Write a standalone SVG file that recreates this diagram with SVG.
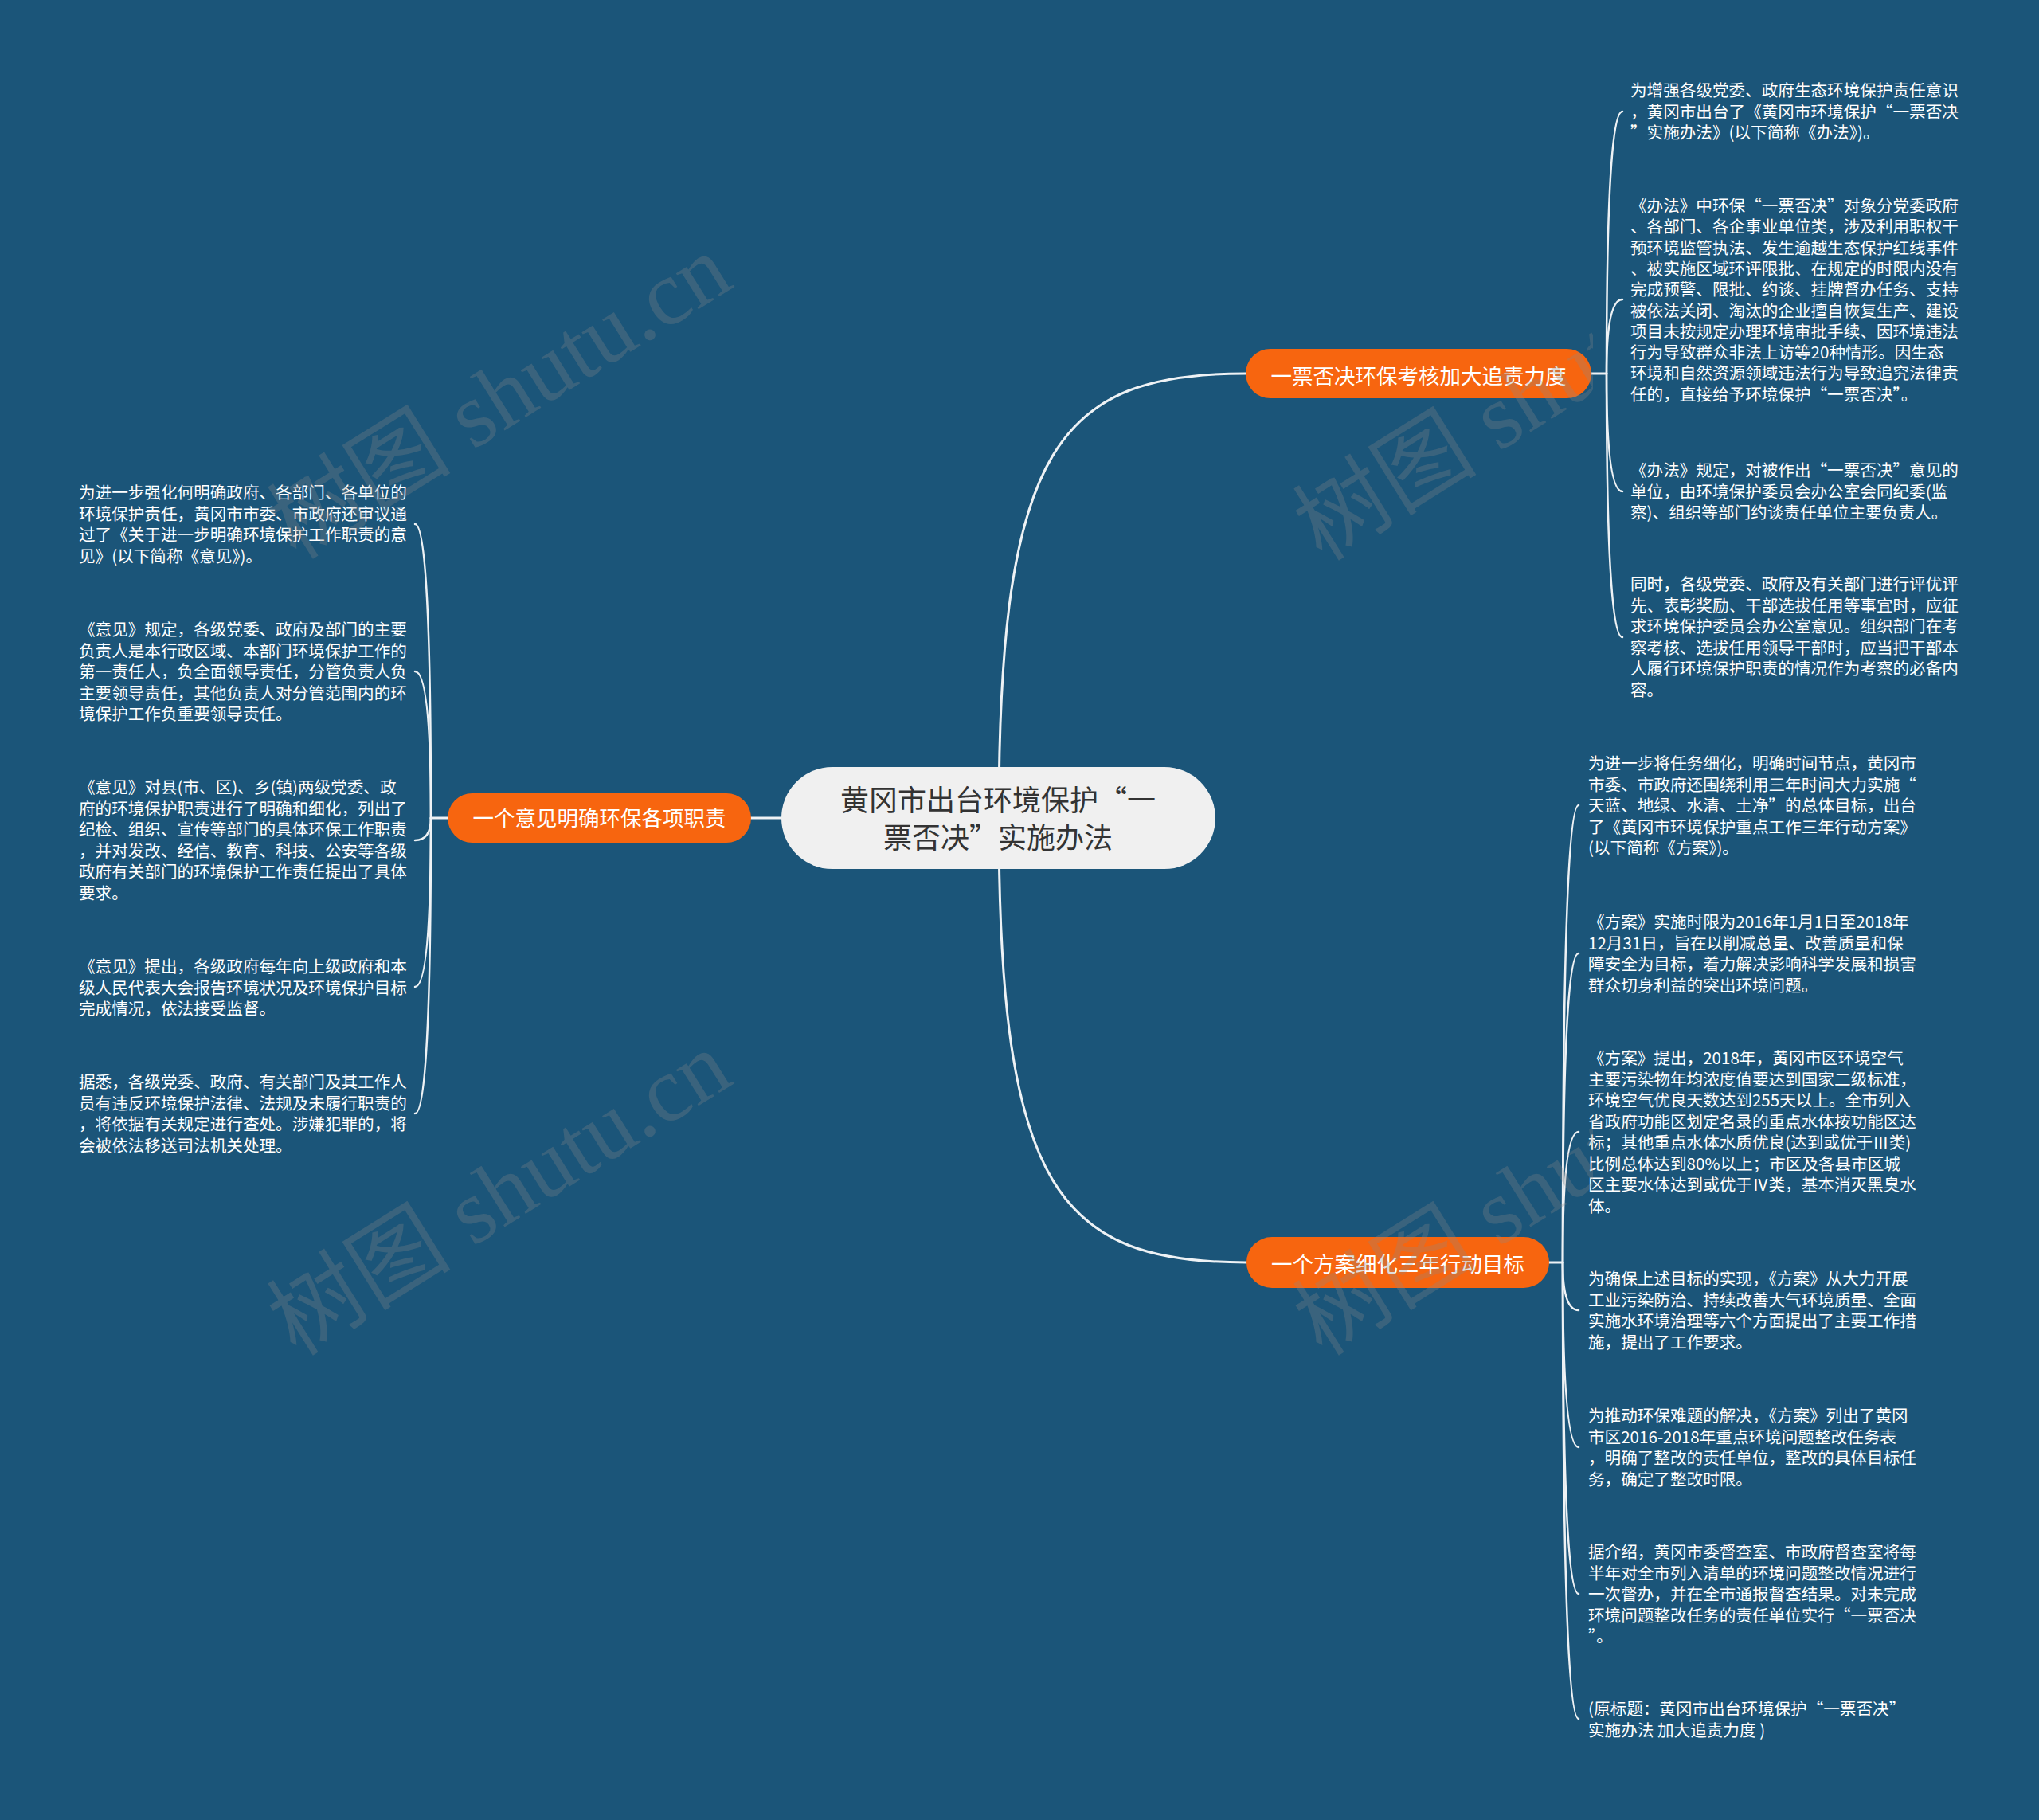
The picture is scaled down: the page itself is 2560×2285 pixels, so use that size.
<svg xmlns="http://www.w3.org/2000/svg" width="2560" height="2285" viewBox="0 0 2560 2285">
<defs>
<style>
.leaf{font-family:"Noto Sans CJK SC","Noto Sans",sans-serif;font-size:20.6px;fill:#ffffff}
.main{font-family:"Noto Sans CJK SC","Noto Sans",sans-serif;font-size:26.5px;fill:#ffffff;text-anchor:middle}
.root{font-family:"Noto Sans CJK SC","Noto Sans",sans-serif;font-size:36px;fill:#333333;text-anchor:middle}
.conn{fill:none;stroke:#eef2f5;stroke-width:3;stroke-linecap:round}
.br{fill:none;stroke:#eef2f5;stroke-width:2.5;stroke-linecap:round}
.orange{fill:#f7650f}
.wm{font-family:"Liberation Serif","Noto Sans CJK SC",serif;font-size:116px;fill:#8a8a8a;opacity:0.28}
</style>
<clipPath id="wmclip"><rect x="0" y="0" width="2000" height="2285"/></clipPath>
</defs>
<rect width="2560" height="2285" fill="#1b5579"/>

<g id="connectors">
<path class="conn" d="M1254 1027 C1254 560 1330 469 1564 469"/>
<path class="conn" d="M1254 1027 C1254 1494 1330 1585 1565 1585"/>
<path class="conn" d="M1254 1027 H943"/>
<path class="conn" d="M1998 469 H2017"/>
<path class="br" d="M2017 469 Q2017 140 2037 140"/>
<path class="br" d="M2017 469 Q2017 376 2037 376"/>
<path class="br" d="M2017 469 Q2017 617 2037 617"/>
<path class="br" d="M2017 469 Q2017 800 2037 800"/>
<path class="conn" d="M562 1027 H541"/>
<path class="br" d="M541 1027 Q541 658 521 658"/>
<path class="br" d="M541 1027 Q541 843 521 843"/>
<path class="br" d="M541 1027 Q541 1055 521 1055"/>
<path class="br" d="M541 1027 Q541 1239 521 1239"/>
<path class="br" d="M541 1027 Q541 1398 521 1398"/>
<path class="conn" d="M1945 1585 H1962"/>
<path class="br" d="M1962 1585 Q1962 1011 1982 1011"/>
<path class="br" d="M1962 1585 Q1962 1197 1982 1197"/>
<path class="br" d="M1962 1585 Q1962 1421 1982 1421"/>
<path class="br" d="M1962 1585 Q1962 1645 1982 1645"/>
<path class="br" d="M1962 1585 Q1962 1817 1982 1817"/>
<path class="br" d="M1962 1585 Q1962 2001 1982 2001"/>
<path class="br" d="M1962 1585 Q1962 2158 1982 2158"/>
</g>

<g id="root">
<rect x="981" y="963" width="545" height="128" rx="64" fill="#f0f0f0"/>
<text class="root"><tspan x="1253" y="1018">黄冈市出台环境保护“一</tspan><tspan x="1253" y="1065">票否决”实施办法</tspan></text>
</g>

<g id="branch-top">
<rect class="orange" x="1564" y="438" width="434" height="62" rx="31"/>
<text class="main" x="1781" y="482">一票否决环保考核加大追责力度</text>
</g>
<g id="branch-left">
<rect class="orange" x="562" y="996" width="381" height="62" rx="31"/>
<text class="main" x="752.5" y="1037">一个意见明确环保各项职责</text>
</g>
<g id="branch-bottom">
<rect class="orange" x="1565" y="1553" width="380" height="64" rx="32"/>
<text class="main" x="1755" y="1597">一个方案细化三年行动目标</text>
</g>

<g id="leaf-t1"><text class="leaf"><tspan x="2047" y="121">为增强各级党委、政府生态环境保护责任意识</tspan><tspan x="2047" y="147.5">，黄冈市出台了《黄冈市环境保护“一票否决</tspan><tspan x="2047" y="174">”实施办法》(以下简称《办法》)。</tspan></text></g>
<g id="leaf-t2"><text class="leaf"><tspan x="2047" y="266">《办法》中环保“一票否决”对象分党委政府</tspan><tspan x="2047" y="292.3">、各部门、各企事业单位类，涉及利用职权干</tspan><tspan x="2047" y="318.6">预环境监管执法、发生逾越生态保护红线事件</tspan><tspan x="2047" y="344.9">、被实施区域环评限批、在规定的时限内没有</tspan><tspan x="2047" y="371.2">完成预警、限批、约谈、挂牌督办任务、支持</tspan><tspan x="2047" y="397.5">被依法关闭、淘汰的企业擅自恢复生产、建设</tspan><tspan x="2047" y="423.8">项目未按规定办理环境审批手续、因环境违法</tspan><tspan x="2047" y="450.1">行为导致群众非法上访等20种情形。因生态</tspan><tspan x="2047" y="476.4">环境和自然资源领域违法行为导致追究法律责</tspan><tspan x="2047" y="502.7">任的，直接给予环境保护“一票否决”。</tspan></text></g>
<g id="leaf-t3"><text class="leaf"><tspan x="2047" y="598">《办法》规定，对被作出“一票否决”意见的</tspan><tspan x="2047" y="624.5">单位，由环境保护委员会办公室会同纪委(监</tspan><tspan x="2047" y="651">察)、组织等部门约谈责任单位主要负责人。</tspan></text></g>
<g id="leaf-t4"><text class="leaf"><tspan x="2047" y="741">同时，各级党委、政府及有关部门进行评优评</tspan><tspan x="2047" y="767.5">先、表彰奖励、干部选拔任用等事宜时，应征</tspan><tspan x="2047" y="794">求环境保护委员会办公室意见。组织部门在考</tspan><tspan x="2047" y="820.5">察考核、选拔任用领导干部时，应当把干部本</tspan><tspan x="2047" y="847">人履行环境保护职责的情况作为考察的必备内</tspan><tspan x="2047" y="873.5">容。</tspan></text></g>

<g id="leaf-l1"><text class="leaf"><tspan x="99" y="626">为进一步强化何明确政府、各部门、各单位的</tspan><tspan x="99" y="652.5">环境保护责任，黄冈市市委、市政府还审议通</tspan><tspan x="99" y="679">过了《关于进一步明确环境保护工作职责的意</tspan><tspan x="99" y="705.5">见》(以下简称《意见》)。</tspan></text></g>
<g id="leaf-l2"><text class="leaf"><tspan x="99" y="798">《意见》规定，各级党委、政府及部门的主要</tspan><tspan x="99" y="824.5">负责人是本行政区域、本部门环境保护工作的</tspan><tspan x="99" y="851">第一责任人，负全面领导责任，分管负责人负</tspan><tspan x="99" y="877.5">主要领导责任，其他负责人对分管范围内的环</tspan><tspan x="99" y="904">境保护工作负重要领导责任。</tspan></text></g>
<g id="leaf-l3"><text class="leaf"><tspan x="99" y="996">《意见》对县(市、区)、乡(镇)两级党委、政</tspan><tspan x="99" y="1022.5">府的环境保护职责进行了明确和细化，列出了</tspan><tspan x="99" y="1049">纪检、组织、宣传等部门的具体环保工作职责</tspan><tspan x="99" y="1075.5">，并对发改、经信、教育、科技、公安等各级</tspan><tspan x="99" y="1102">政府有关部门的环境保护工作责任提出了具体</tspan><tspan x="99" y="1128.5">要求。</tspan></text></g>
<g id="leaf-l4"><text class="leaf"><tspan x="99" y="1221">《意见》提出，各级政府每年向上级政府和本</tspan><tspan x="99" y="1247.5">级人民代表大会报告环境状况及环境保护目标</tspan><tspan x="99" y="1274">完成情况，依法接受监督。</tspan></text></g>
<g id="leaf-l5"><text class="leaf"><tspan x="99" y="1366">据悉，各级党委、政府、有关部门及其工作人</tspan><tspan x="99" y="1392.5">员有违反环境保护法律、法规及未履行职责的</tspan><tspan x="99" y="1419">，将依据有关规定进行查处。涉嫌犯罪的，将</tspan><tspan x="99" y="1445.5">会被依法移送司法机关处理。</tspan></text></g>

<g id="leaf-r1"><text class="leaf"><tspan x="1994" y="966">为进一步将任务细化，明确时间节点，黄冈市</tspan><tspan x="1994" y="992.5">市委、市政府还围绕利用三年时间大力实施“</tspan><tspan x="1994" y="1019">天蓝、地绿、水清、土净”的总体目标，出台</tspan><tspan x="1994" y="1045.5">了《黄冈市环境保护重点工作三年行动方案》</tspan><tspan x="1994" y="1072">(以下简称《方案》)。</tspan></text></g>
<g id="leaf-r2"><text class="leaf"><tspan x="1994" y="1165">《方案》实施时限为2016年1月1日至2018年</tspan><tspan x="1994" y="1191.5">12月31日，旨在以削减总量、改善质量和保</tspan><tspan x="1994" y="1218">障安全为目标，着力解决影响科学发展和损害</tspan><tspan x="1994" y="1244.5">群众切身利益的突出环境问题。</tspan></text></g>
<g id="leaf-r3"><text class="leaf"><tspan x="1994" y="1336">《方案》提出，2018年，黄冈市区环境空气</tspan><tspan x="1994" y="1362.5">主要污染物年均浓度值要达到国家二级标准，</tspan><tspan x="1994" y="1389">环境空气优良天数达到255天以上。全市列入</tspan><tspan x="1994" y="1415.5">省政府功能区划定名录的重点水体按功能区达</tspan><tspan x="1994" y="1442">标；其他重点水体水质优良(达到或优于Ⅲ类)</tspan><tspan x="1994" y="1468.5">比例总体达到80%以上；市区及各县市区城</tspan><tspan x="1994" y="1495">区主要水体达到或优于Ⅳ类，基本消灭黑臭水</tspan><tspan x="1994" y="1521.5">体。</tspan></text></g>
<g id="leaf-r4"><text class="leaf"><tspan x="1994" y="1613">为确保上述目标的实现，《方案》从大力开展</tspan><tspan x="1994" y="1639.5">工业污染防治、持续改善大气环境质量、全面</tspan><tspan x="1994" y="1666">实施水环境治理等六个方面提出了主要工作措</tspan><tspan x="1994" y="1692.5">施，提出了工作要求。</tspan></text></g>
<g id="leaf-r5"><text class="leaf"><tspan x="1994" y="1785">为推动环保难题的解决，《方案》列出了黄冈</tspan><tspan x="1994" y="1811.5">市区2016-2018年重点环境问题整改任务表</tspan><tspan x="1994" y="1838">，明确了整改的责任单位，整改的具体目标任</tspan><tspan x="1994" y="1864.5">务，确定了整改时限。</tspan></text></g>
<g id="leaf-r6"><text class="leaf"><tspan x="1994" y="1956">据介绍，黄冈市委督查室、市政府督查室将每</tspan><tspan x="1994" y="1982.5">半年对全市列入清单的环境问题整改情况进行</tspan><tspan x="1994" y="2009">一次督办，并在全市通报督查结果。对未完成</tspan><tspan x="1994" y="2035.5">环境问题整改任务的责任单位实行“一票否决</tspan><tspan x="1994" y="2062">”。</tspan></text></g>
<g id="leaf-r7"><text class="leaf"><tspan x="1994" y="2153">(原标题：黄冈市出台环境保护“一票否决”</tspan><tspan x="1994" y="2179.5">实施办法 加大追责力度 )</tspan></text></g>

<g id="watermarks" clip-path="url(#wmclip)">
<text class="wm" transform="translate(372 704) rotate(-32)">树图 shutu.cn</text>
<text class="wm" transform="translate(372 1704) rotate(-32)">树图 shutu.cn</text>
<text class="wm" transform="translate(1660 706) rotate(-32)">树图 shutu.cn</text>
<text class="wm" transform="translate(1660 1704) rotate(-32)">树图 shutu.cn</text>
</g>
</svg>
